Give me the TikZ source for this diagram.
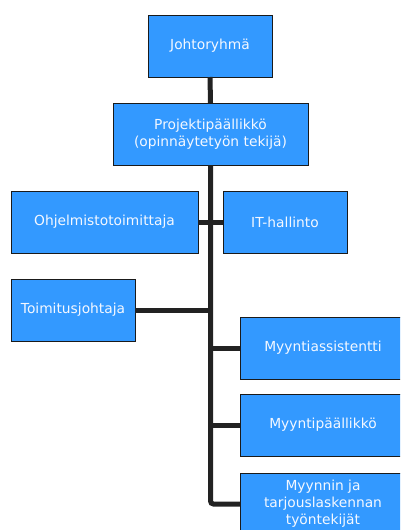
\documentclass[tikz,border=0pt]{standalone}
\usepackage{fontspec}
\setmainfont{DejaVu Sans}
\definecolor{boxblue}{HTML}{3399FF}
\definecolor{boxedge}{HTML}{1A1A1A}
\definecolor{linkdark}{HTML}{222222}
\definecolor{labelwhite}{HTML}{F4F8FF}
\tikzset{
  orgbox/.style={draw=boxedge, line width=1pt, fill=boxblue, text=labelwhite,
    inner sep=2pt, outer sep=0pt, minimum height=62pt, align=center,
    font=\fontsize{13.8}{17}\selectfont},
  link/.style={draw=linkdark, line width=5pt},
}
\begin{document}
\begin{tikzpicture}[x=1pt,y=-1pt]
\useasboundingbox (0,0) rectangle (400,530);
\clip (0,0) rectangle (400,530);
\fill[white] (0,0) rectangle (400,530);

% top chain
\node[orgbox, minimum width=124pt] (jr) at (210,46) {Johtoryhmä};
\node[orgbox, minimum width=195pt] (pp) at (210.5,134) {Projektipäällikkö\\(opinnäytetyön tekijä)};

% side units
\node[orgbox, minimum width=187pt] (oh) at (104.5,222) {Ohjelmistotoimittaja};
\node[orgbox, minimum width=124pt] (it) at (285,222) {IT-hallinto};
\node[orgbox, minimum width=124pt] (tj) at (73,310) {Toimitusjohtaja};

% sales
\node[orgbox, minimum width=166pt] (ma) at (323,348) {Myyntiassistentti};
\node[orgbox, minimum width=166pt] (mp) at (323,425) {Myyntipäällikkö};
\node[orgbox, minimum width=166pt] (mt) at (323,504) {Myynnin ja\\tarjouslaskennan\\työntekijät};

% connectors
\draw[link] (jr.south) -- (pp.north);
\draw[link, rounded corners=3pt] (pp.south) |- (mt.west);
\draw[link] (oh.east) -- (it.west);
\draw[link] (tj.east) -- (tj.east -| pp.south);
\draw[link] (ma.west) -- (ma.west -| pp.south);
\draw[link] (mp.west) -- (mp.west -| pp.south);
\end{tikzpicture}
\end{document}
